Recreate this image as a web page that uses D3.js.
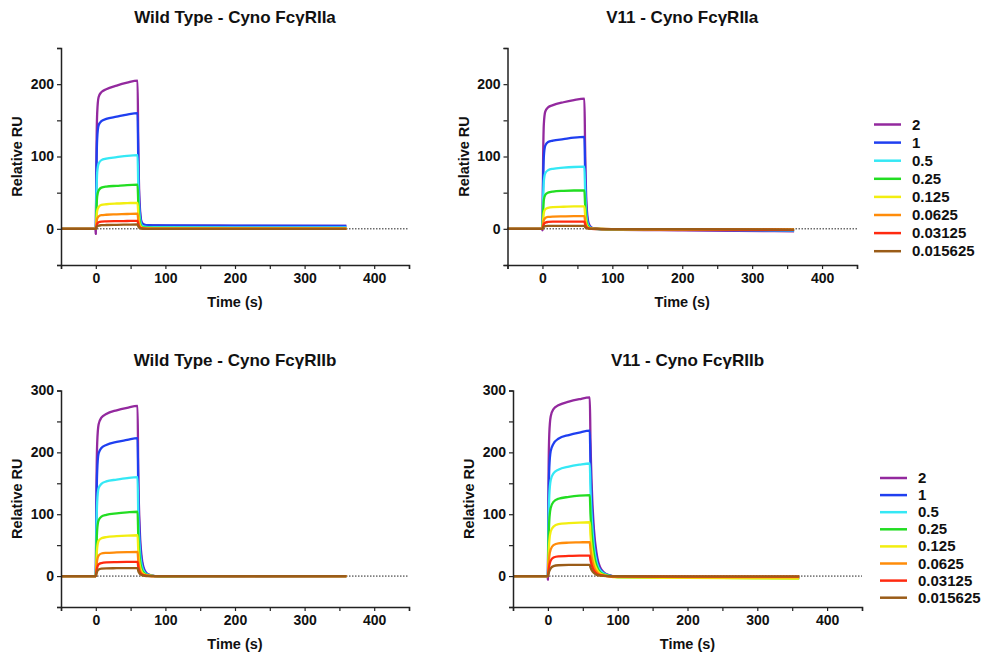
<!DOCTYPE html>
<html>
<head>
<meta charset="utf-8">
<script src="https://cdn.jsdelivr.net/npm/d3@7"></script>
<style>
  body { margin: 0; background: #fff; }
  text { font-family: "Liberation Sans", Arial, sans-serif; font-weight: bold; fill: #111; }
</style>
</head>
<body>
<script>
// concentrations and their colours (legend order)
var concentrations = ["2", "1", "0.5", "0.25", "0.125", "0.0625", "0.03125", "0.015625"];
var colors = ["#93299e", "#1f3ff0", "#35e8f5", "#22dd22", "#f2ee10", "#ff8c0a", "#ff2a10", "#9a5c18"];

// sample times (s) shared by every sensorgram
var timePoints = [-50, -0.5, 0, 1, 2, 4, 8, 15, 30, 45, 60, 61, 63, 66, 70, 75, 85, 100, 200, 360];

// Relative RU, one row per concentration
var wtIIa = [
  [0, 0, -7, 110, 160, 182, 189, 193, 198, 202, 205, 120, 35, 9, 5.5, 5, 4.8, 4.5, 4.2, 4],
  [0, 0, 0, 85, 125, 143, 149, 152, 155, 158, 160, 95, 28, 8, 5.5, 5, 4.8, 4.6, 4.4, 4.2],
  [0, 0, 0, 50, 78, 90, 95, 97, 99, 101, 102, 60, 18, 5, 3, 2.5, 2.3, 2.2, 2, 2],
  [0, 0, 0, 28, 45, 53, 57, 58.5, 59.5, 60.5, 61, 36, 11, 3, 1.8, 1.5, 1.3, 1.2, 1, 1],
  [0, 0, 0, 15, 25, 30, 33, 34, 35, 35.5, 36, 21, 6, 1.8, 1, 0.8, 0.7, 0.6, 0.5, 0.5],
  [0, 0, 0, 8, 14, 17, 19, 19.5, 20, 20.5, 21, 12, 3.5, 1, 0.5, 0.4, 0.3, 0.3, 0.3, 0.3],
  [0, 0, 0, 4, 7, 9, 10, 10.3, 10.6, 10.8, 11, 6.5, 2, 0.5, 0.2, 0, 0, 0, 0, 0],
  [0, 0, 0, 2, 3.5, 4.5, 5, 5.3, 5.6, 5.8, 6, 3.5, 1, 0.2, 0, 0, 0, 0, 0, 0]
];
var v11IIa = [
  [0, 0, -2, 100, 145, 162, 168, 171, 175, 178, 180, 115, 35, 8, 2, 0.5, -0.5, -1, -2, -3.5],
  [0, 0, 0, 65, 100, 115, 120, 122, 124, 126, 127, 82, 25, 6, 1.5, 0.3, -0.5, -1, -1.5, -2.5],
  [0, 0, 0, 42, 66, 77, 81, 83, 84.5, 85.5, 86, 55, 17, 4, 1, 0, -0.5, -0.8, -1.2, -2],
  [0, 0, 0, 24, 40, 47, 50, 51.5, 52.5, 53, 53, 34, 10, 2.5, 0.5, 0, -0.3, -0.6, -1, -1.5],
  [0, 0, 0, 13, 22, 27, 29, 30, 30.5, 31, 31, 20, 6, 1.5, 0.3, 0, -0.2, -0.5, -0.8, -1.2],
  [0, 0, 0, 7, 12, 15, 16.5, 17, 17.3, 17.5, 17.5, 11, 3.5, 1, 0.2, 0, -0.2, -0.4, -0.6, -1],
  [0, 0, 0, 3.5, 6.5, 8.5, 9.5, 10, 10, 10, 10, 6.5, 2, 0.5, 0, -0.2, -0.3, -0.5, -0.8, -1.5],
  [0, 0, 0, 1.5, 2.8, 3.6, 4, 4, 4, 4, 4, 2.5, 0.8, 0.2, 0, 0, -0.2, -0.3, -0.5, -1]
];
var wtIIb = [
  [0, 0, 0, 150, 215, 245, 256, 262, 268, 272, 275, 170, 80, 30, 10, 3, 0, -0.8, -0.5, 0],
  [0, 0, 0, 115, 170, 198, 207, 212, 217, 220, 223, 140, 65, 24, 8, 2.5, 0, -0.6, -0.3, 0],
  [0, 0, 0, 80, 120, 142, 149, 153, 156, 158.5, 160, 100, 47, 17, 6, 2, 0, -0.5, -0.2, 0],
  [0, 0, 0, 48, 75, 90, 96, 99, 101.5, 103, 104, 66, 30, 11, 4, 1.2, 0, -0.3, 0, 0],
  [0, 0, 0, 28, 46, 57, 61, 63, 64.5, 65.5, 66, 42, 19, 7, 2.5, 0.8, 0, 0, 0, 0],
  [0, 0, 0, 15, 26, 33, 36.5, 37.5, 38.2, 38.7, 39, 25, 11, 4, 1.5, 0.5, 0, 0, 0, 0],
  [0, 0, 0, 8, 14, 19, 21, 22, 22.5, 22.8, 23, 15, 7, 2.5, 1, 0.3, 0, 0, 0, 0],
  [0, 0, 0, 4, 7.5, 10.5, 12, 12.5, 12.7, 12.9, 13, 8.5, 4, 1.5, 0.5, 0, 0, 0, 0, 0]
];
var v11IIb = [
  [0, 0, -6, 170, 230, 258, 270, 276, 282, 286, 289, 220, 140, 75, 35, 14, 2.5, -1, -1.5, -2],
  [0, 0, 0, 120, 175, 202, 214, 222, 228, 232, 235, 180, 115, 62, 29, 11, 2, -1, -2, -2.5],
  [0, 0, 0, 85, 130, 155, 166, 172, 177, 180, 182, 140, 90, 48, 22, 9, 1.5, -1.5, -2.5, -3],
  [0, 0, 0, 55, 90, 110, 120, 125, 128, 130, 131, 100, 65, 35, 16, 6, 1, -1.5, -2.5, -3.5],
  [0, 0, 0, 33, 56, 72, 80, 84, 85.5, 86.5, 87, 67, 43, 23, 11, 4, 0.5, -2, -3, -4],
  [0, 0, 0, 18, 32, 43, 50, 53, 54, 54.5, 55, 43, 28, 15, 7, 2.5, 0, -1, -1.5, -1.5],
  [0, 0, 0, 9, 17, 25, 30, 32, 32.5, 33, 33, 26, 17, 9, 4, 1.5, 0, -0.5, -0.8, -1],
  [0, 0, 0, 4, 8, 12.5, 16, 17.5, 18, 18, 18, 14, 9, 5, 2, 0.8, 0, -0.3, -0.5, -0.5]
];

var xTicks = d3.range(-50, 451, 50);

var panels = [
  {title: "Wild Type - Cyno Fc\u03b3RIIa", rows: wtIIa, left: 61, right: 409, top: 48, bottom: 265, yMax: 250},
  {title: "V11 - Cyno Fc\u03b3RIIa", rows: v11IIa, left: 507.5, right: 857, top: 48, bottom: 265, yMax: 250,
   legend: {x: 874, y: 124.5, step: 18.1}},
  {title: "Wild Type - Cyno Fc\u03b3RIIb", rows: wtIIb, left: 61, right: 409, top: 390.5, bottom: 607, yMax: 300},
  {title: "V11 - Cyno Fc\u03b3RIIb", rows: v11IIb, left: 513, right: 862, top: 390.5, bottom: 607, yMax: 300,
   legend: {x: 880, y: 478, step: 17.1}}
];

var svg = d3.select("body").append("svg")
    .attr("width", 982)
    .attr("height", 660);

panels.forEach(function(p) {
  var x = d3.scaleLinear().domain([-50, 450]).range([p.left, p.right]);
  var y = d3.scaleLinear().domain([-50, p.yMax]).range([p.bottom, p.top]);
  var g = svg.append("g");

  // dotted zero line
  g.append("line")
      .attr("x1", x(-50)).attr("x2", x(450))
      .attr("y1", y(0)).attr("y2", y(0))
      .attr("stroke", "#222")
      .attr("stroke-width", 1)
      .attr("stroke-dasharray", "1.5,1.5");

  var line = d3.line()
      .x(function(d, i) { return x(timePoints[i]); })
      .y(function(d) { return y(d); })
      .curve(d3.curveMonotoneX);

  g.selectAll("path.curve")
      .data(p.rows)
      .enter().append("path")
      .attr("class", "curve")
      .attr("d", line)
      .attr("fill", "none")
      .attr("stroke", function(d, i) { return colors[i]; })
      .attr("stroke-width", 2.3)
      .attr("stroke-linejoin", "round");

  // axes
  var xAxis = d3.axisBottom(x).tickValues(xTicks).tickSize(4).tickPadding(4)
      .tickFormat(function(d) { return d % 100 === 0 && d >= 0 && d <= 400 ? d : ""; });
  var yAxis = d3.axisLeft(y).tickValues(d3.range(-50, p.yMax + 1, 50)).tickSize(4).tickPadding(3)
      .tickFormat(function(d) { return d % 100 === 0 && d >= 0 ? d : ""; });

  var gx = g.append("g").attr("transform", "translate(0," + p.bottom + ")").call(xAxis);
  var gy = g.append("g").attr("transform", "translate(" + p.left + ",0)").call(yAxis);
  [gx, gy].forEach(function(a) {
    a.select(".domain").attr("stroke", "#222").attr("stroke-width", 1.5);
    a.selectAll(".tick line").attr("stroke", "#222").attr("stroke-width", 1.2);
    a.selectAll(".tick text").attr("font-size", 14).attr("font-family", "Liberation Sans, Arial, sans-serif")
        .attr("font-weight", "bold").attr("fill", "#111");
  });

  var cx = (p.left + p.right) / 2;
  g.append("text")
      .attr("x", cx).attr("y", p.top - 25)
      .attr("text-anchor", "middle")
      .attr("font-size", 17)
      .text(p.title);

  g.append("text")
      .attr("x", cx).attr("y", p.bottom + 42)
      .attr("text-anchor", "middle")
      .attr("font-size", 14.5)
      .text("Time (s)");

  g.append("text")
      .attr("transform", "translate(" + (p.left - 39) + "," + ((p.top + p.bottom) / 2) + ") rotate(-90)")
      .attr("text-anchor", "middle")
      .attr("font-size", 14.5)
      .text("Relative RU");

  if (p.legend) {
    var lg = g.append("g");
    concentrations.forEach(function(c, i) {
      var yy = p.legend.y + i * p.legend.step;
      lg.append("line")
          .attr("x1", p.legend.x).attr("x2", p.legend.x + 27)
          .attr("y1", yy).attr("y2", yy)
          .attr("stroke", colors[i])
          .attr("stroke-width", 2.5);
      lg.append("text")
          .attr("x", p.legend.x + 38).attr("y", yy + 5)
          .attr("font-size", 15)
          .text(c);
    });
  }
});
</script>
</body>
</html>
